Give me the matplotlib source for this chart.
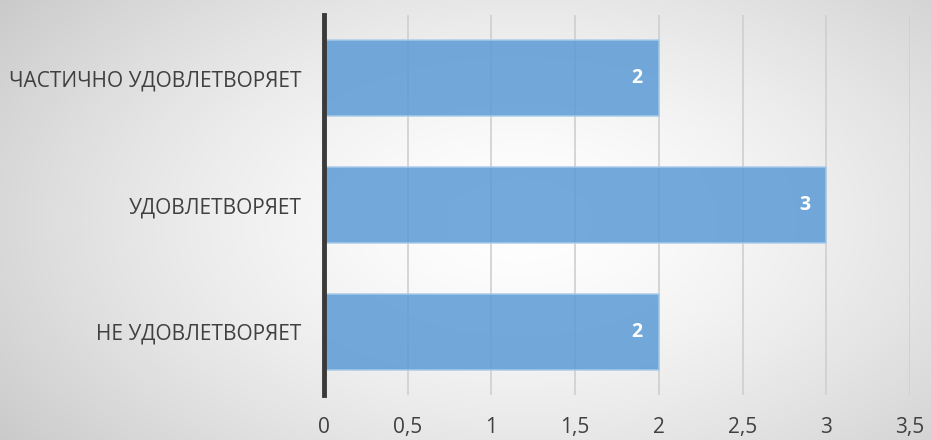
import numpy as np
import matplotlib.pyplot as plt

plt.rcParams['font.family'] = ['Open Sans', 'DejaVu Sans']

categories = ['НЕ УДОВЛЕТВОРЯЕТ', 'УДОВЛЕТВОРЯЕТ', 'ЧАСТИЧНО УДОВЛЕТВОРЯЕТ']
values = [2, 3, 2]
xticks = [0, 0.5, 1, 1.5, 2, 2.5, 3, 3.5]
xtick_labels = ['0', '0,5', '1', '1,5', '2', '2,5', '3', '3,5']

fig = plt.figure(figsize=(9.31, 4.4), dpi=100)

# radial gradient background
bg = fig.add_axes([0, 0, 1, 1], zorder=-10)
yy, xx = np.mgrid[0:440, 0:931]
r = np.sqrt(((xx - 520) / 560.0) ** 2 + ((yy - 220) / 330.0) ** 2)
shade = 1.0 - 0.17 * np.clip(r, 0, 1.3) ** 1.5
bg.imshow(np.dstack([shade] * 3), aspect='auto', extent=[0, 1, 0, 1])
bg.axis('off')

ax = fig.add_axes([324 / 931, 45 / 440, (910 - 324) / 931, 380 / 440])
ax.patch.set_alpha(0)
ax.barh(range(len(values)), values, height=0.6, color='#5b9bd5', alpha=0.85,
        edgecolor='#a9cbea', linewidth=1.2, zorder=3)
for i, v in enumerate(values):
    ax.text(v - 0.13, i, str(v), ha='center', va='center', color='white',
            fontsize=14, fontweight='bold', zorder=4)

ax.set_xlim(0, 3.5)
ax.set_ylim(-0.5, 2.5)
ax.set_xticks(xticks)
ax.set_xticklabels(xtick_labels)
ax.set_yticks(range(len(categories)))
ax.set_yticklabels(categories)
ax.tick_params(axis='x', length=0, pad=16, labelsize=15, labelcolor='#404040')
ax.tick_params(axis='y', length=0, pad=16, labelsize=15, labelcolor='#404040')
for x in xticks[1:]:
    ax.axvline(x, color='#cfcfcf', linewidth=1.2, zorder=1)
for s in ['top', 'right', 'bottom']:
    ax.spines[s].set_visible(False)
ax.spines['left'].set_color('#3a3a3a')
ax.spines['left'].set_linewidth(3.5)
ax.spines['left'].set_zorder(5)

fig.savefig('out.png', dpi=100)
